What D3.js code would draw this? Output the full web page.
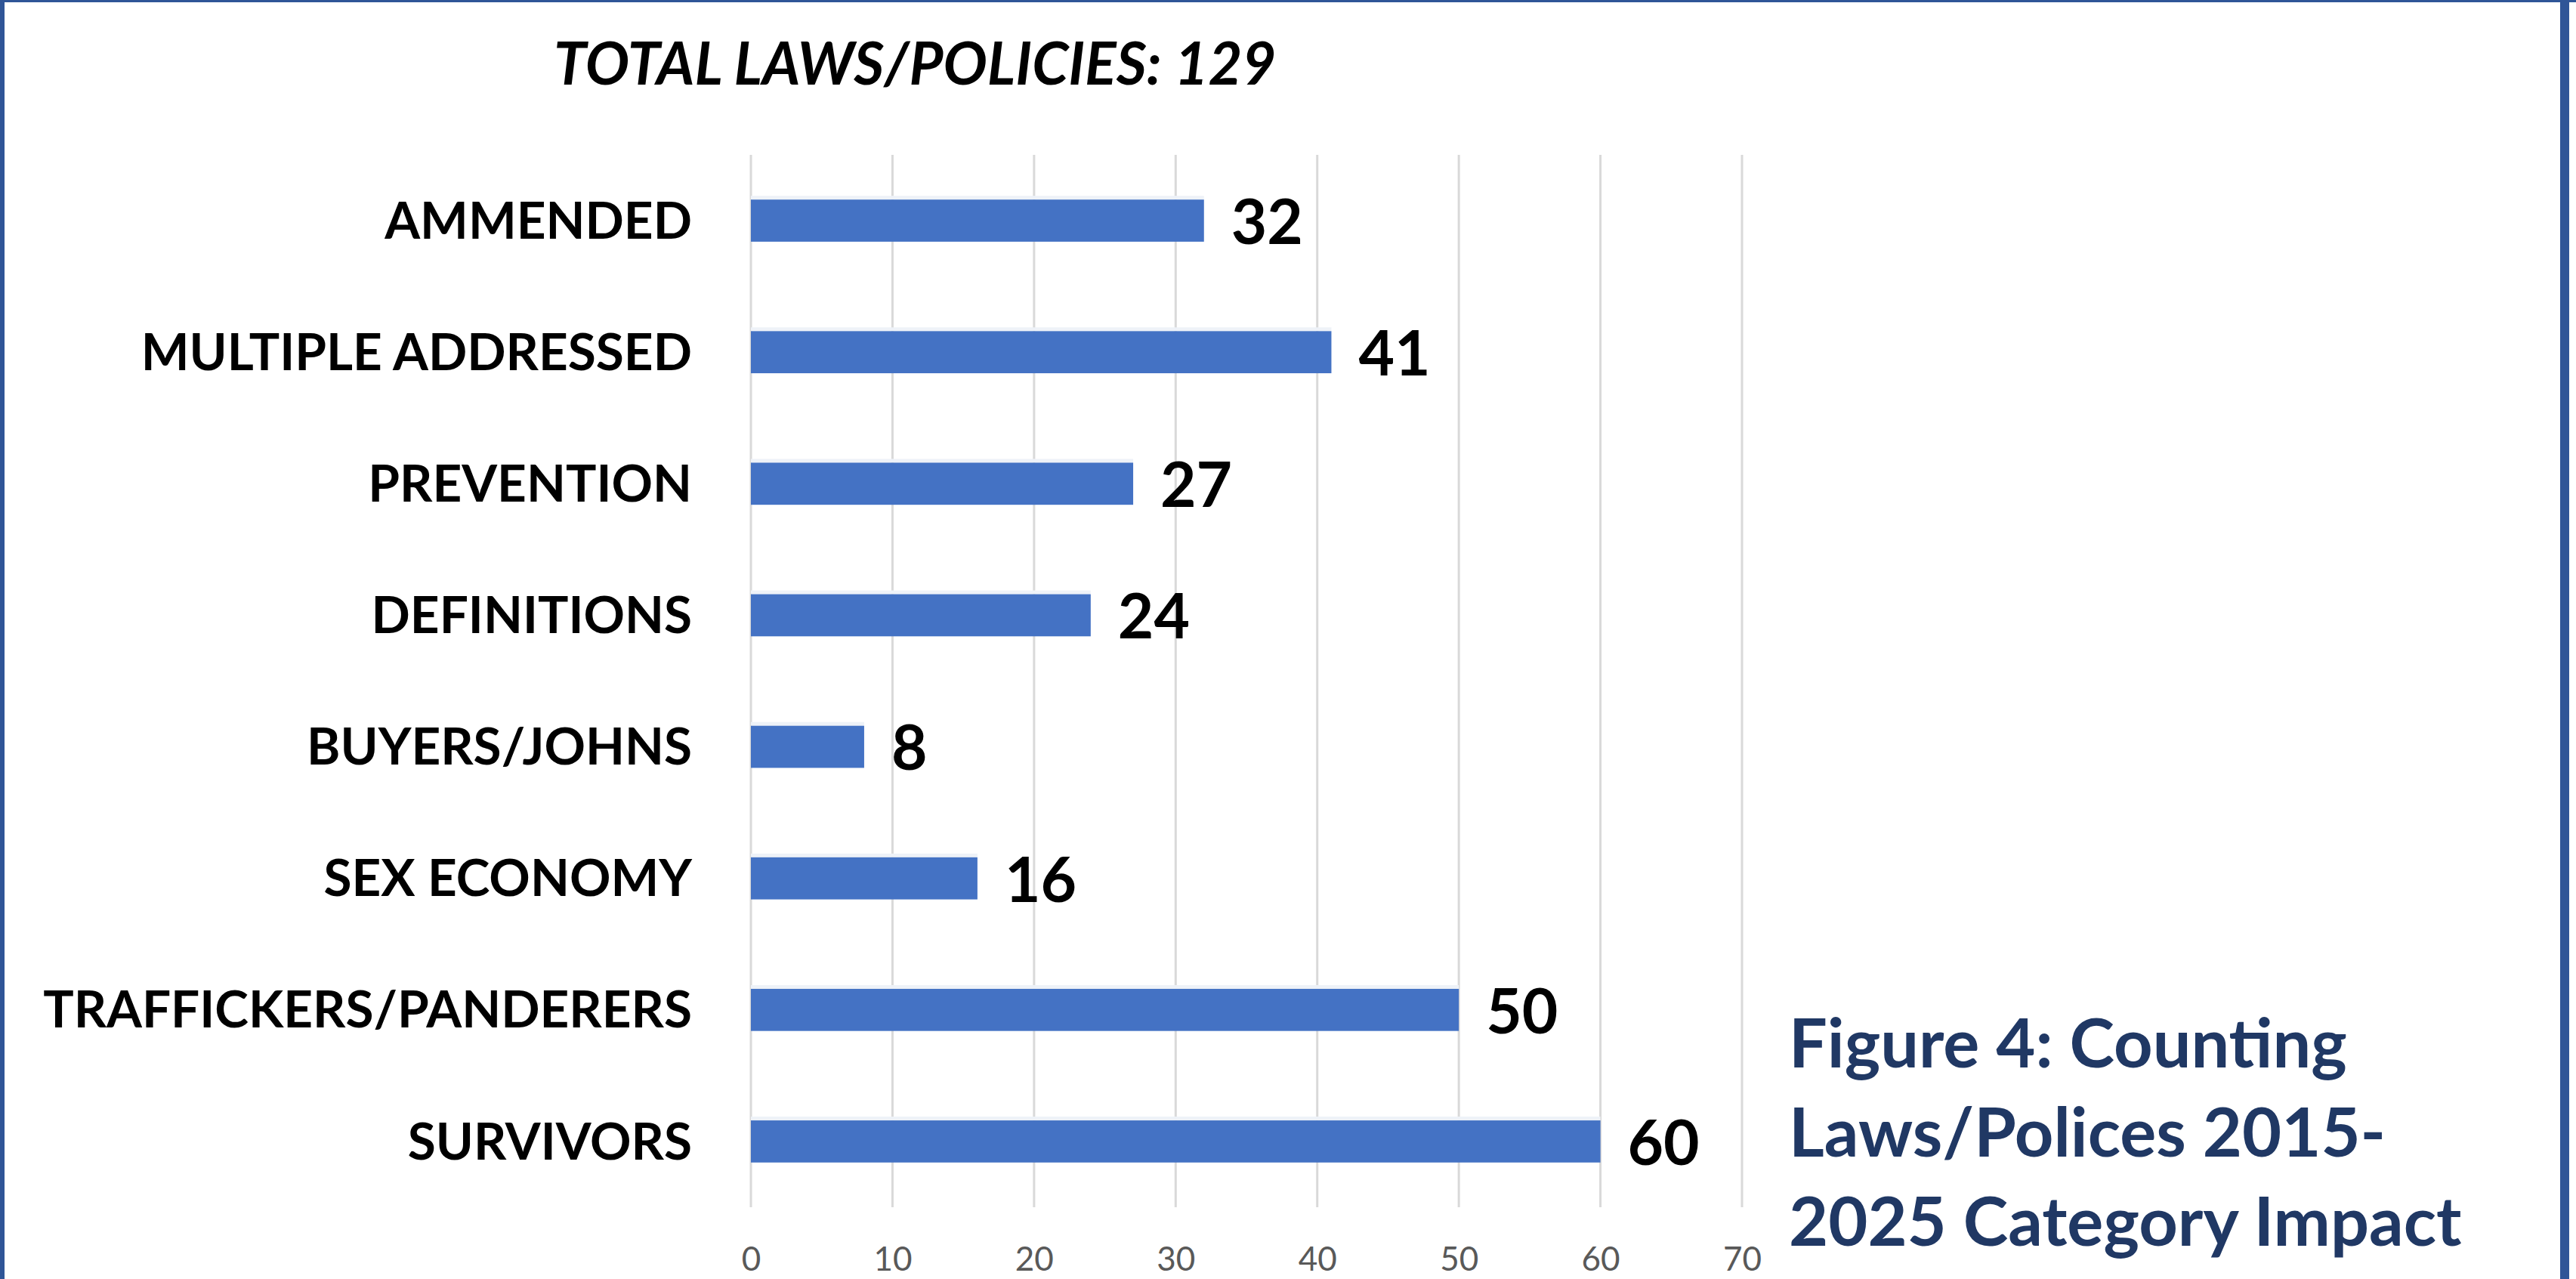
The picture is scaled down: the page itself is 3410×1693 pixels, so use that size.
<!DOCTYPE html>
<html>
<head>
<meta charset="utf-8">
<script src="https://cdn.jsdelivr.net/npm/d3@7"></script>
<style>
  html, body { margin: 0; padding: 0; background: #fff; }
  svg { display: block; }
</style>
</head>
<body>
<svg id="chart"></svg>
<script>
// donnees du graphique
const categories = ["AMMENDED", "MULTIPLE ADDRESSED", "PREVENTION", "DEFINITIONS",
  "BUYERS/JOHNS", "SEX ECONOMY", "TRAFFICKERS/PANDERERS", "SURVIVORS"];
const counts = [32, 41, 27, 24, 8, 16, 50, 60];
const xTicks = [0, 10, 20, 30, 40, 50, 60, 70];
const chartTitle = "TOTAL LAWS/POLICIES: 129";
const captionLines = ["Figure 4: Counting", "Laws/Polices 2015-", "2025 Category Impact"];

const width = 3410;
const height = 1693;
const plot = { left: 994, right: 2306, top: 205, bottom: 1598 };
const font = "Lato, 'Open Sans', sans-serif";

const svg = d3.select("#chart")
  .attr("width", width)
  .attr("height", height);

svg.append("rect").attr("width", width).attr("height", height).attr("fill", "#fff");

// cadre bleu
svg.append("rect").attr("x", 0).attr("y", 0).attr("width", width).attr("height", 3).attr("fill", "#2F5597");
svg.append("rect").attr("x", 0).attr("y", 0).attr("width", 6).attr("height", height).attr("fill", "#2F5597");
svg.append("rect").attr("x", 3389).attr("y", 0).attr("width", 12).attr("height", height).attr("fill", "#2F5597");

const x = d3.scaleLinear()
  .domain([0, 70])
  .range([plot.left, plot.right]);

const y = d3.scaleBand()
  .domain(categories)
  .range([plot.top, plot.bottom])
  .paddingInner(0.68)
  .paddingOuter(0.34);

// lignes de grille verticales
svg.selectAll(".grid-line")
  .data(xTicks)
  .join("line")
  .attr("class", "grid-line")
  .attr("x1", d => x(d))
  .attr("x2", d => x(d))
  .attr("y1", plot.top)
  .attr("y2", plot.bottom)
  .attr("stroke", "#d9d9d9")
  .attr("stroke-width", 3);

// axe X (seulement les libelles)
const xAxis = svg.append("g")
  .attr("class", "x-axis")
  .attr("transform", `translate(0, ${plot.bottom + 50})`)
  .call(d3.axisBottom(x).tickValues(xTicks).tickSize(0));
xAxis.select(".domain").remove();
xAxis.selectAll("text")
  .attr("font-family", font)
  .attr("font-size", 44)
  .attr("fill", "#595959");

const data = categories.map((c, i) => ({ cat: c, val: counts[i] }));

// petite ombre claire au-dessus des barres
svg.selectAll(".bar-glow")
  .data(data)
  .join("rect")
  .attr("class", "bar-glow")
  .attr("x", x(0))
  .attr("y", d => y(d.cat) - 5)
  .attr("width", d => x(d.val) - x(0))
  .attr("height", 5)
  .attr("fill", "#eef2f8");

svg.selectAll(".bar")
  .data(data)
  .join("rect")
  .attr("class", "bar")
  .attr("x", x(0))
  .attr("y", d => y(d.cat))
  .attr("width", d => x(d.val) - x(0))
  .attr("height", y.bandwidth())
  .attr("fill", "#4472C4");

// valeurs a droite des barres
svg.selectAll(".value-label")
  .data(data)
  .join("text")
  .attr("class", "value-label")
  .attr("x", d => x(d.val) + 36)
  .attr("y", d => y(d.cat) + y.bandwidth() + 3)
  .attr("font-family", font)
  .attr("font-weight", "bold")
  .attr("font-size", 82)
  .attr("fill", "#000")
  .text(d => d.val);

// noms des categories
svg.selectAll(".cat-label")
  .data(data)
  .join("text")
  .attr("class", "cat-label")
  .attr("x", 916)
  .attr("y", d => y(d.cat) + y.bandwidth() / 2)
  .attr("dy", "0.35em")
  .attr("text-anchor", "end")
  .attr("font-family", font)
  .attr("font-weight", "bold")
  .attr("font-size", 67.5)
  .attr("fill", "#000")
  .text(d => d.cat);

// titre
svg.append("text")
  .attr("x", 733)
  .attr("y", 112)
  .attr("font-family", font)
  .attr("font-weight", "bold")
  .attr("font-style", "italic")
  .attr("font-size", 77.5)
  .attr("fill", "#000")
  .text(chartTitle);

// legende de la figure
svg.append("text")
  .attr("font-family", font)
  .attr("font-weight", "bold")
  .attr("font-size", 90)
  .attr("fill", "#203864")
  .selectAll("tspan")
  .data(captionLines)
  .join("tspan")
  .attr("x", 2368)
  .attr("y", (d, i) => 1413 + i * 118)
  .text(d => d);
</script>
</body>
</html>
